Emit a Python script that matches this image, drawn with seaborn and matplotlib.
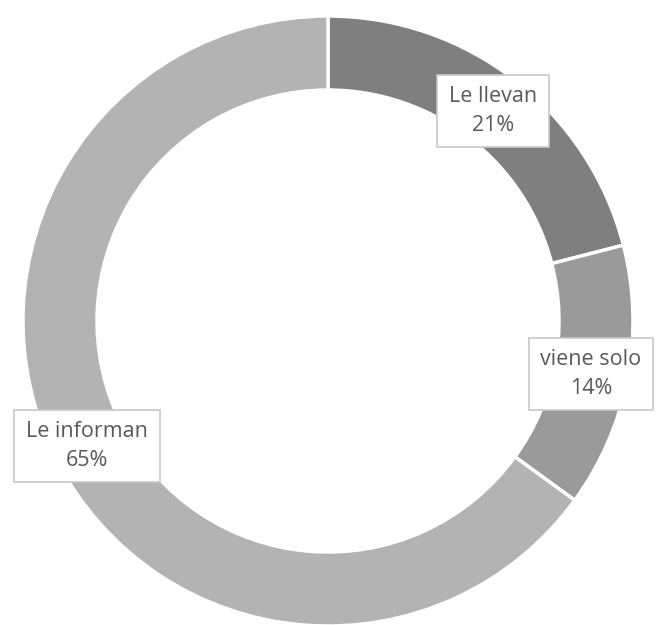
import matplotlib
matplotlib.use("Agg")
import matplotlib.pyplot as plt
import seaborn as sns

# Data
categories = ["Le llevan", "viene solo", "Le informan"]
shares = [21, 14, 65]
colors = ["#7f7f7f", "#9a9a9a", "#b3b3b3"]

# label box centres in pixel coords (x right, y up)
label_pos = [(493, 514), (591, 251), (87, 179)]

sns.set_theme(style="white")
plt.rcParams["font.family"] = ["Open Sans", "DejaVu Sans"]

fig = plt.figure(figsize=(6.57, 6.25), dpi=100)
ax = fig.add_axes([0, 0, 1, 1])

center = (328, 304)
ax.pie(shares, colors=colors, startangle=90, counterclock=False,
       radius=305, center=center,
       wedgeprops=dict(width=74, edgecolor="white", linewidth=2.5))

for name, val, (x, y) in zip(categories, shares, label_pos):
    ax.text(x, y, f"{name}\n{val}%", ha="center", va="center",
            fontsize=15.5, color="#595959", linespacing=1.45,
            bbox=dict(boxstyle="square,pad=0.55", fc="white", ec="#c8c8c8", lw=1.2))

ax.set_xlim(0, 657)
ax.set_ylim(0, 625)
ax.set_aspect("equal")
ax.axis("off")

fig.savefig("out.png", dpi=100, facecolor="white")
